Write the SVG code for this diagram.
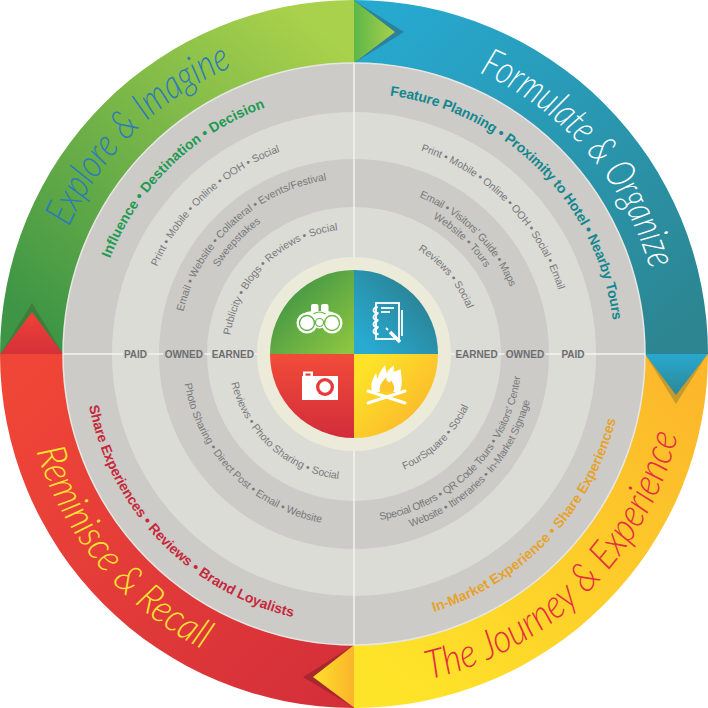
<svg xmlns="http://www.w3.org/2000/svg" width="708" height="708" viewBox="0 0 708 708">
<defs>
<style>
.bold{font-family:'Liberation Sans',Arial,sans-serif;font-weight:bold;font-size:14px}
.small{font-family:'Liberation Sans',Arial,sans-serif;font-size:10.5px;fill:#77787b}
.lbl{font-family:'Liberation Sans',Arial,sans-serif;font-weight:bold;font-size:10px;fill:#6d6e71;text-anchor:middle}
.script{font-family:Lato,'DejaVu Sans',sans-serif;font-weight:300;font-style:italic;font-size:40px}
.div{stroke:#f3f3ef;stroke-width:1.5}
</style>
<linearGradient id="gTL" gradientUnits="userSpaceOnUse" x1="300" y1="15" x2="40" y2="330"><stop offset="0" stop-color="#a9d14b"/><stop offset="1" stop-color="#3d9545"/></linearGradient>
<linearGradient id="gTR" gradientUnits="userSpaceOnUse" x1="400" y1="15" x2="690" y2="330"><stop offset="0" stop-color="#27a8cf"/><stop offset="1" stop-color="#2c8590"/></linearGradient>
<linearGradient id="gBR" gradientUnits="userSpaceOnUse" x1="690" y1="380" x2="400" y2="690"><stop offset="0" stop-color="#fcb72b"/><stop offset="1" stop-color="#fee429"/></linearGradient>
<linearGradient id="gBL" gradientUnits="userSpaceOnUse" x1="20" y1="380" x2="330" y2="690"><stop offset="0" stop-color="#f04637"/><stop offset="1" stop-color="#d5303a"/></linearGradient>
<linearGradient id="aTop" gradientUnits="userSpaceOnUse" x1="354" y1="0" x2="395" y2="0"><stop offset="0" stop-color="#5db749"/><stop offset="1" stop-color="#a8d04a"/></linearGradient>
<linearGradient id="aRight" gradientUnits="userSpaceOnUse" x1="0" y1="354" x2="0" y2="395"><stop offset="0" stop-color="#28a8cf"/><stop offset="1" stop-color="#2c8897"/></linearGradient>
<linearGradient id="aBottom" gradientUnits="userSpaceOnUse" x1="354" y1="0" x2="313" y2="0"><stop offset="0" stop-color="#fbb42c"/><stop offset="1" stop-color="#fde12a"/></linearGradient>
<linearGradient id="aLeft" gradientUnits="userSpaceOnUse" x1="0" y1="354" x2="0" y2="312"><stop offset="0" stop-color="#d6303a"/><stop offset="1" stop-color="#ef4337"/></linearGradient>
<linearGradient id="cTL" gradientUnits="userSpaceOnUse" x1="285" y1="285" x2="350" y2="350"><stop offset="0" stop-color="#409545"/><stop offset="1" stop-color="#8dc641"/></linearGradient>
<linearGradient id="cTR" gradientUnits="userSpaceOnUse" x1="365" y1="345" x2="430" y2="285"><stop offset="0" stop-color="#28aad1"/><stop offset="1" stop-color="#2b7c8b"/></linearGradient>
<linearGradient id="cBL" gradientUnits="userSpaceOnUse" x1="0" y1="356" x2="0" y2="438"><stop offset="0" stop-color="#f14b3a"/><stop offset="1" stop-color="#d22c3a"/></linearGradient>
<linearGradient id="cBR" gradientUnits="userSpaceOnUse" x1="365" y1="365" x2="430" y2="425"><stop offset="0" stop-color="#fde328"/><stop offset="1" stop-color="#fbb42c"/></linearGradient>
<!-- text paths -->
<path id="pTLb" d="M110.1,258.4 A262,262 0 0 1 317.5,94.5"/>
<path id="pTRb" d="M389.9,95.5 A261,261 0 0 1 614.8,344.9"/>
<path id="pBLb" d="M89,406 A270,270 0 0 0 321.1,622"/>
<path id="pBRb" d="M433.8,611.9 A270,270 0 0 0 621.4,391.6"/>
<path id="pTLpaid" d="M157,266.7 A215.5,215.5 0 0 1 309.2,143.2"/>
<path id="pTLown1" d="M183.2,311.7 A176,176 0 0 1 347.9,178.1"/>
<path id="pTLown2" d="M218.2,267.5 A161,161 0 0 1 286,208.1"/>
<path id="pTLearn" d="M230.4,335.3 A125,125 0 0 1 349.6,229.1"/>
<path id="pTRpaid" d="M420.8,150.7 A214,214 0 0 1 564.7,316.8"/>
<path id="pTRown1" d="M419.3,197.1 A170,170 0 0 1 518.2,310"/>
<path id="pTRown2" d="M432.7,218.2 A157,157 0 0 1 496.3,287.7"/>
<path id="pTRearn" d="M418.1,250.2 A122,122 0 0 1 471.8,322.4"/>
<path id="pBLown" d="M184.6,383.9 A172,172 0 0 0 339,525.3"/>
<path id="pBLearn" d="M231.4,383 A126,126 0 0 0 349.6,479.9"/>
<path id="pBRearn" d="M404.2,469.6 A126,126 0 0 0 473.8,392.9"/>
<path id="pBRown1" d="M380,520 A168,168 0 0 0 521.9,359.9"/>
<path id="pBRown2" d="M410.5,527 A182,182 0 0 0 533.8,382.5"/>
<path id="pS1" d="M69,227.1 A312,312 0 0 1 257.6,57.3"/>
<path id="pS2" d="M479.3,72.6 A308,308 0 0 1 657.3,300.5"/>
<path id="pS3" d="M36.5,451.1 A332,332 0 0 0 240.5,666"/>
<path id="pS4" d="M429.1,679.4 A334,334 0 0 0 684.7,400.5"/>
</defs>

<g id="outer-ring">
<path d="M0,354 A354,354 0 0 1 354,0 L354,63 A291,291 0 0 0 63,354 Z" fill="url(#gTL)"/>
<path d="M354,0 A354,354 0 0 1 708,354 L645,354 A291,291 0 0 0 354,63 Z" fill="url(#gTR)"/>
<path d="M708,354 A354,354 0 0 1 354,708 L354,645 A291,291 0 0 0 645,354 Z" fill="url(#gBR)"/>
<path d="M354,708 A354,354 0 0 1 0,354 L63,354 A291,291 0 0 0 354,645 Z" fill="url(#gBL)"/>
</g>

<g id="arrows">
<polygon points="354,0.5 404,32 354,63" fill="#2b829a"/>
<polygon points="354,0.5 395,32 354,63" fill="url(#aTop)"/>
<polygon points="645,354 676,404 707.5,354" fill="#c79a2d"/>
<polygon points="645,354 676,395 707.5,354" fill="url(#aRight)"/>
<polygon points="354,645 303,677 354,707.5" fill="#a9272f"/>
<polygon points="354,645 313,677 354,707.5" fill="url(#aBottom)"/>
<polygon points="0.5,354 32,303 63,354" fill="#3e7e3c"/>
<polygon points="0.5,354 32,312 63,354" fill="url(#aLeft)"/>
</g>

<g id="phase-titles">
<text class="script" fill="#2b7bb8"><textPath href="#pS1" textLength="234" lengthAdjust="spacingAndGlyphs">Explore &amp; Imagine</textPath></text>
<text class="script" fill="#ffffff"><textPath href="#pS2" textLength="269" lengthAdjust="spacingAndGlyphs">Formulate &amp; Organize</textPath></text>
<text class="script" fill="#fde233"><textPath href="#pS3" textLength="266" lengthAdjust="spacingAndGlyphs">Reminisce &amp; Recall</textPath></text>
<text class="script" fill="#e2313f"><textPath href="#pS4" textLength="367" lengthAdjust="spacingAndGlyphs">The Journey &amp; Experience</textPath></text>
</g>

<g id="rings">
<circle cx="354" cy="354" r="291" fill="#cccbc7" stroke="#e6e6e2" stroke-width="1.5"/>
<circle cx="354" cy="354" r="242" fill="#dcdcd7"/>
<circle cx="354" cy="354" r="195" fill="#cccbc7"/>
<circle cx="354" cy="354" r="147" fill="#dcdcd7"/>
<circle cx="354" cy="354" r="97" fill="#ecebd9"/>
</g>

<g id="dividers">
<line class="div" x1="354" y1="63" x2="354" y2="257"/>
<line class="div" x1="354" y1="451" x2="354" y2="645"/>
<line class="div" x1="63" y1="354" x2="123" y2="354"/>
<line class="div" x1="148" y1="354" x2="163" y2="354"/>
<line class="div" x1="204.5" y1="354" x2="211" y2="354"/>
<line class="div" x1="254.5" y1="354" x2="257" y2="354"/>
<line class="div" x1="451" y1="354" x2="455" y2="354"/>
<line class="div" x1="498" y1="354" x2="504.5" y2="354"/>
<line class="div" x1="545.5" y1="354" x2="561" y2="354"/>
<line class="div" x1="585" y1="354" x2="645" y2="354"/>
</g>

<g id="column-labels">
<text class="lbl" x="135.5" y="357.6">PAID</text>
<text class="lbl" x="183.8" y="357.6">OWNED</text>
<text class="lbl" x="232.8" y="357.6">EARNED</text>
<text class="lbl" x="476.5" y="357.6">EARNED</text>
<text class="lbl" x="525" y="357.6">OWNED</text>
<text class="lbl" x="573" y="357.6">PAID</text>
</g>

<g id="q-explore">
<text class="bold" fill="#1f9a52"><textPath href="#pTLb" textLength="223">Influence • Destination • Decision</textPath></text>
<text class="small"><textPath href="#pTLpaid" textLength="173">Print • Mobile • Online • OOH • Social</textPath></text>
<text class="small"><textPath href="#pTLown1" textLength="206">Email • Website • Collateral • Events/Festival</textPath></text>
<text class="small"><textPath href="#pTLown2">Sweepstakes</textPath></text>
<text class="small"><textPath href="#pTLearn" textLength="161">Publicity • Blogs • Reviews • Social</textPath></text>
</g>

<g id="q-formulate">
<text class="bold" fill="#13878f"><textPath href="#pTRb" textLength="340">Feature Planning • Proximity to Hotel • Nearby Tours</textPath></text>
<text class="small"><textPath href="#pTRpaid" textLength="203">Print • Mobile • Online • OOH • Social • Email</textPath></text>
<text class="small"><textPath href="#pTRown1" textLength="131">Email • Visitors’ Guide • Maps</textPath></text>
<text class="small"><textPath href="#pTRown2">Website • Tours</textPath></text>
<text class="small"><textPath href="#pTRearn">Reviews • Social</textPath></text>
</g>

<g id="q-reminisce">
<text class="bold" fill="#c6293b"><textPath href="#pBLb" textLength="310">Share Experiences • Reviews • Brand Loyalists</textPath></text>
<text class="small"><textPath href="#pBLown" textLength="207">Photo Sharing • Direct Post • Email • Website</textPath></text>
<text class="small"><textPath href="#pBLearn" textLength="153">Reviews • Photo Sharing • Social</textPath></text>
</g>

<g id="q-journey">
<text class="bold" fill="#e6a32c"><textPath href="#pBRb" textLength="277">In-Market Experience • Share Experiences</textPath></text>
<text class="small"><textPath href="#pBRearn" textLength="92">FourSquare • Social</textPath></text>
<text class="small"><textPath href="#pBRown1" textLength="215">Special Offers • QR Code Tours • Visitors’ Center</textPath></text>
<text class="small"><textPath href="#pBRown2" textLength="181">Website •  Itineraries • In-Market Signage</textPath></text>
</g>

<g id="center">
<path d="M354,354 L270,354 A84,84 0 0 1 354,270 Z" fill="url(#cTL)"/>
<path d="M354,354 L354,270 A84,84 0 0 1 438,354 Z" fill="url(#cTR)"/>
<path d="M354,354 L438,354 A84,84 0 0 1 354,438 Z" fill="url(#cBR)"/>
<path d="M354,354 L354,438 A84,84 0 0 1 270,354 Z" fill="url(#cBL)"/>
</g>

<g id="icon-binoculars">
<rect x="311" y="304" width="7.5" height="11" rx="2" fill="#fff"/>
<rect x="321" y="304" width="7.5" height="11" rx="2" fill="#fff"/>
<path d="M298,322 Q300,312 312,311 L327,311 Q339,312 341,322 Z" fill="#fff"/>
<circle cx="307" cy="323" r="10.5" fill="#fff"/>
<circle cx="332" cy="323" r="10.5" fill="#fff"/>
<circle cx="319.5" cy="322" r="6.5" fill="#fff"/>
<circle cx="307" cy="323" r="7.5" fill="none" stroke="#62b046" stroke-width="1.4"/>
<circle cx="332" cy="323" r="7.5" fill="none" stroke="#72ba45" stroke-width="1.4"/>
<circle cx="319.5" cy="322.5" r="4" fill="none" stroke="#6ab445" stroke-width="1.2"/>
<path d="M313.5,314 Q319.5,310 325.5,314" fill="none" stroke="#6ab445" stroke-width="1.2"/>
</g>

<g id="icon-notepad" fill="none" stroke="#fff" stroke-width="1.8">
<rect x="376" y="303" width="23" height="36"/>
<line x1="402" y1="310" x2="402" y2="336"/>
<path d="M378,307.5 a3,3 0 1 0 0.5,5"/>
<path d="M378,314.5 a3,3 0 1 0 0.5,5"/>
<path d="M378,321.5 a3,3 0 1 0 0.5,5"/>
<path d="M378,328.5 a3,3 0 1 0 0.5,5"/>
<line x1="381" y1="308" x2="394" y2="308"/>
<line x1="381" y1="312" x2="390" y2="312"/>
<line x1="390" y1="332" x2="400" y2="342" stroke-width="3.5"/>
<line x1="386" y1="328" x2="388" y2="330"/>
</g>

<g id="icon-camera">
<rect x="302" y="376" width="36" height="24" fill="#fff"/>
<rect x="303" y="371.5" width="10" height="6" fill="#fff"/>
<rect x="305.5" y="373.5" width="5" height="2.2" fill="#e53a3a"/>
<circle cx="325" cy="387" r="9" fill="#e63a3a"/>
<circle cx="325" cy="387" r="5.7" fill="#fff"/>
</g>

<g id="icon-campfire">
<path d="M372,392 C370,384 373,378 376,373 L377.5,379 C379,373 382,369 385,365 L386.5,373 C389,369 391.5,367 394,365.5 L393.5,372 C396,370.5 398,371 400.5,369 C401.5,377 403,384 400,392 Z" fill="#fff"/>
<path d="M380,392 C378.5,386 382,382 386,377.5 C387,382 389.5,384 391,380.5 C394,384.5 395.5,389 393,392 Z" fill="#fdc62b"/>
<g stroke="#fff" stroke-width="3" stroke-linecap="round">
<line x1="368" y1="403" x2="405" y2="391"/>
<line x1="368" y1="391" x2="405" y2="403"/>
</g>
</g>
</svg>
